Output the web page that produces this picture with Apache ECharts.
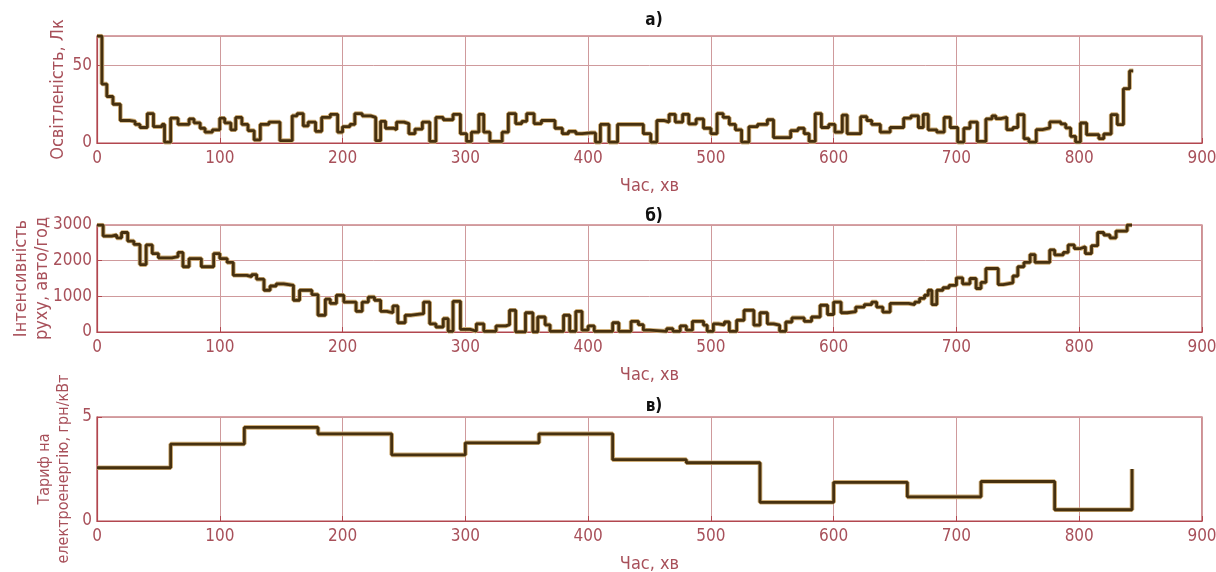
<!DOCTYPE html>
<html><head><meta charset="utf-8">
<script src="https://cdn.jsdelivr.net/npm/echarts@6/dist/echarts.min.js"></script>
<style>html,body{margin:0;padding:0;background:#fff}#c{width:1216px;height:572px}</style>
</head><body><div id="c"></div>
<script>
// ---- a) illumination, lx (step values: value holds from time until next time)
var lightTimes = [0,4,8,13,19,27,31,35,41,46,53,55,60,66,75,79,84,88,94,100,104,109,113,118,123,128,133,140,149,159,163,168,172,178,183,190,196,200,206,210,216,223,227,231,235,242,244,250,254,259,265,271,276,282,290,296,301,305,311,315,320,330,335,341,346,350,356,362,373,379,384,390,395,402,406,410,417,424,445,451,456,462,466,471,477,482,488,494,500,505,510,515,520,525,531,538,546,551,565,571,576,580,585,590,596,601,607,611,622,627,631,638,646,657,663,669,673,677,684,690,695,701,706,711,717,724,729,732,736,741,746,750,755,759,765,770,776,785,789,793,797,801,806,816,820,826,831,836,841,844];
var lightValues = [69,38,30,25,14.5,14,12,10,19,10.5,12,0.5,16,12,15.5,13,9.5,7,8.5,16,13,8.5,16.5,12,8,2,12,13.5,1.5,17.5,19,11,13.5,7.5,16.5,18.5,7,10.5,12,19,17.5,16.5,1.5,14,9.5,8.5,13.5,12.5,6,9,13.5,1,16.5,15,18.5,6,1,7,18.5,7,1,7,19,12.5,14,19,12.5,14.5,9.5,6,7.5,6,6.5,6.5,0.5,12,0.5,12,6,0.5,14.5,13.5,18.5,13.5,18.5,12.3,15.5,9.5,6,19,16.5,12,8.5,0.5,10.5,12,15,3.5,8,9.5,6,1,19,10,12,7,18,6,17,14.5,12,7,10,16,17.5,10,18.5,8.5,7,16.5,10,0.5,9.5,13.5,1,15.5,17.5,15.7,16.6,8.6,10,18.3,2.8,0.6,8.6,9.7,13.6,12.3,9.7,4.3,0.6,12.9,5.4,2.8,5.8,18.3,11.9,35,46.5,46.5];

// ---- б) traffic intensity, vehicles/hour
var trafficTimes = [0,5,12,16,20,25,30,35,40,45,50,61,66,70,75,85,95,100,106,111,122,126,130,136,141,146,152,160,165,175,180,186,190,195,201,211,216,221,226,231,236,241,245,251,256,266,271,276,282,286,290,296,304,309,315,325,333,336,341,349,355,359,365,369,380,385,390,395,400,405,420,425,435,441,445,450,464,469,475,480,485,494,497,502,506,511,515,521,527,535,540,546,551,556,561,566,576,582,589,595,600,606,611,618,625,631,635,640,646,661,666,670,674,677,680,684,689,694,700,705,711,716,720,724,734,738,746,750,755,760,764,776,780,787,791,796,801,805,810,815,820,825,830,839,843];
var trafficValues = [3000,2690,2720,2640,2790,2550,2455,1890,2440,2200,2080,2110,2230,1830,2060,1830,2200,2060,1950,1590,1550,1610,1480,1170,1290,1350,1310,890,1170,1050,470,920,800,1030,840,580,840,980,890,580,540,730,260,470,515,840,230,140,375,20,860,75,20,230,20,170,205,610,0,540,0,420,200,20,470,20,580,50,170,20,260,20,300,205,50,20,95,20,170,50,300,190,20,230,200,280,20,330,610,190,540,230,190,20,280,395,300,420,750,490,840,540,570,700,770,840,700,560,800,770,840,940,1030,1170,770,1170,1240,1310,1520,1350,1500,1220,1390,1780,1330,1380,1570,1830,1950,2170,1950,2300,2160,2230,2440,2340,2390,2200,2420,2790,2720,2640,2830,3000,3000];

// ---- в) electricity tariff, UAH/kW
var tariffTimes = [0,60,120,180,240,300,360,420,480,540,600,660,720,780,843];
var tariffValues = [2.56,3.7,4.5,4.19,3.18,3.76,4.19,2.95,2.8,0.9,1.86,1.16,1.9,0.54,2.5];

var panelTitles = ['а)','б)','в)'];
var xName = 'Час, хв';
var yNames = ['Освітленість, Лк','Інтенсивність\nруху, авто/год','Тариф на\nелектроенергію, грн/кВт'];
var yMax = [69,3000,5];
var yInterval = [50,1000,5];
var xTicks = {min:0,max:900,interval:100};

function zip(t,v){return t.map(function(x,i){return [x,v[i]];});}

var AX = '#b2474f', GRIDC = '#cf9a9c', LAB = '#a8505a';
var FONT = "'Liberation Sans Narrow','DejaVu Sans Condensed','Liberation Sans',sans-serif";
var grids = [
  {left:97,width:1105,top:36,height:107},
  {left:97,width:1105,top:225,height:107},
  {left:97,width:1105,top:417,height:104}
];
var titleTops = [7,203,393];
var nameGaps = [28,44,24];
var nameSizes = [18,18,16];

var option = {animation:false, backgroundColor:'#fff', title:[], grid:[], xAxis:[], yAxis:[], series:[]};
var datas = [zip(lightTimes,lightValues), zip(trafficTimes,trafficValues), zip(tariffTimes,tariffValues)];
for (var i=0;i<3;i++){
  var g = grids[i];
  option.grid.push({left:g.left,width:g.width,top:g.top,height:g.height,show:true,borderColor:AX,borderWidth:1.2,containLabel:false,outerBoundsMode:'none'});
  option.title.push({text:panelTitles[i],left:649,top:titleTops[i],textAlign:'center',textStyle:{fontFamily:FONT,fontSize:17,fontWeight:'bold',color:'#111'}});
  option.xAxis.push({type:'value',gridIndex:i,min:xTicks.min,max:xTicks.max,interval:xTicks.interval,
    name:xName,nameLocation:'middle',nameGap:34,nameMoveOverlap:false,nameTextStyle:{color:LAB,fontFamily:FONT,fontSize:18},
    axisLine:{show:true,lineStyle:{color:AX,width:1.2}},axisTick:{show:true,inside:true,length:5,lineStyle:{color:AX}},
    axisLabel:{color:LAB,fontFamily:FONT,fontSize:17,margin:7,formatter:function(v){return String(v);}},
    splitLine:{show:true,lineStyle:{color:GRIDC,width:1}}});
  option.yAxis.push({type:'value',gridIndex:i,min:0,max:yMax[i],interval:yInterval[i],
    name:yNames[i],nameLocation:'middle',nameGap:nameGaps[i],nameRotate:90,nameMoveOverlap:false,
    nameTextStyle:{color:LAB,fontFamily:FONT,fontSize:nameSizes[i],lineHeight:nameSizes[i]+3,align:'center'},
    axisLine:{show:true,lineStyle:{color:AX,width:1.2}},axisTick:{show:true,inside:true,length:5,lineStyle:{color:AX}},
    axisLabel:{color:LAB,fontFamily:FONT,fontSize:17,margin:5,showMaxLabel:(i!==0),formatter:function(v){return String(v);}},
    splitLine:{show:true,lineStyle:{color:GRIDC,width:1}}});
  option.series.push({type:'line',xAxisIndex:i,yAxisIndex:i,data:datas[i],step:'end',showSymbol:false,silent:true,
    lineStyle:{color:'#cfae78',width:4.6}});
  option.series.push({type:'line',xAxisIndex:i,yAxisIndex:i,data:datas[i],step:'end',showSymbol:false,silent:true,
    lineStyle:{color:'#46300f',width:2.8}});
}
var chart = echarts.init(document.getElementById('c'),null,{renderer:'canvas'});
chart.setOption(option);
</script></body></html>
